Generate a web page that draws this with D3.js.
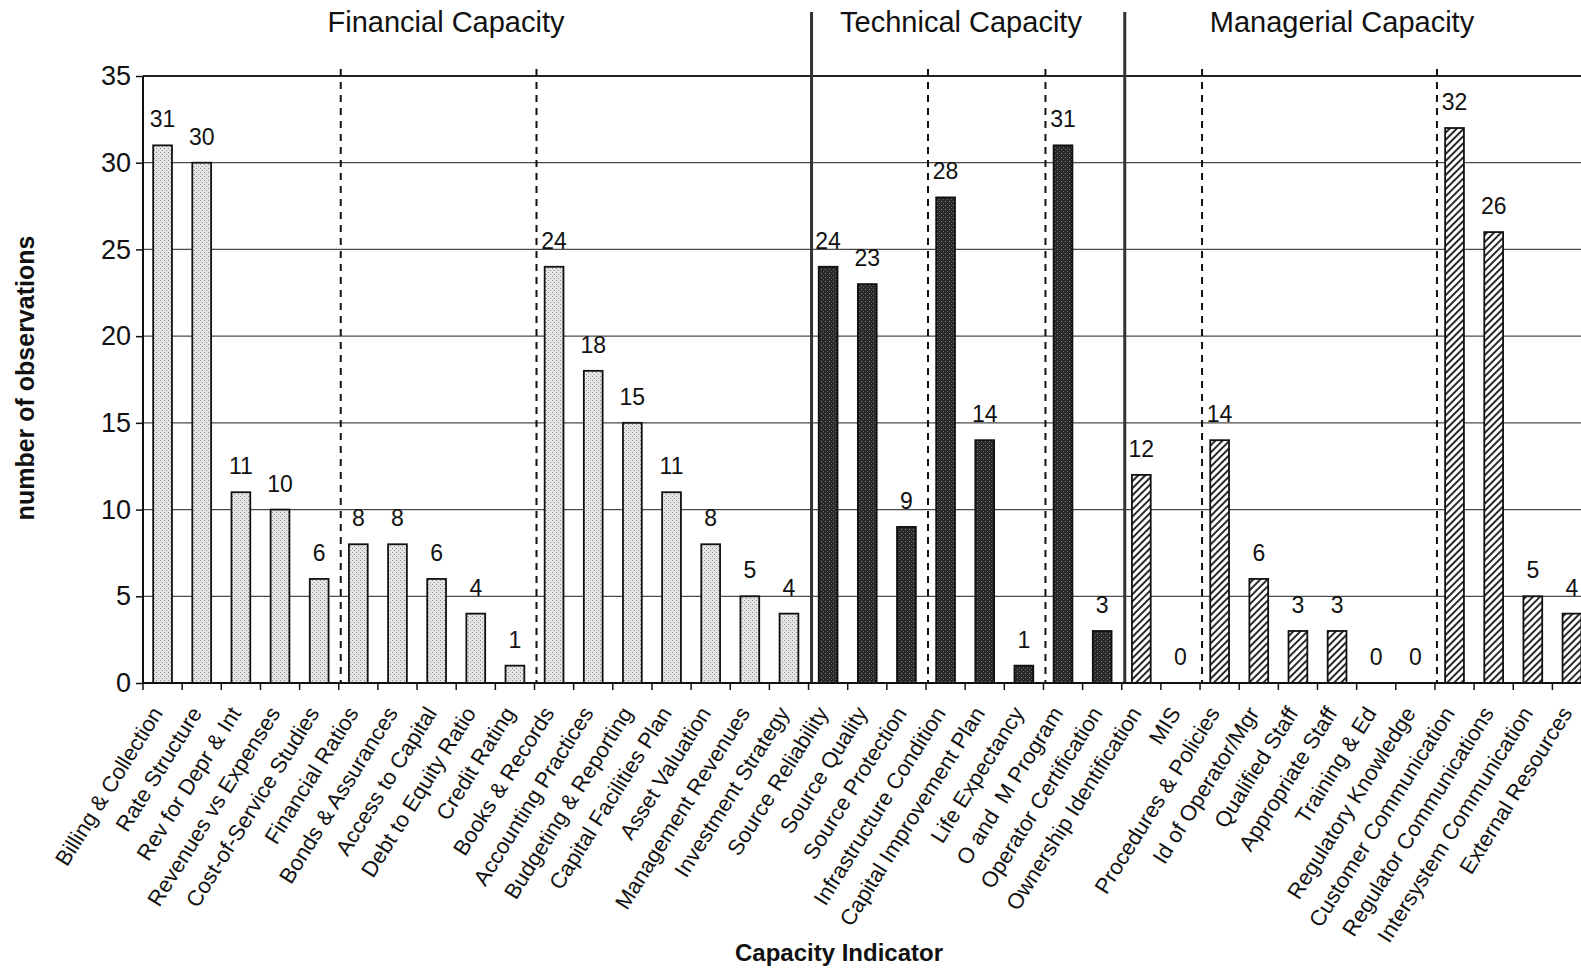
<!DOCTYPE html>
<html>
<meta charset="utf-8">
<script src="https://d3js.org/d3.v7.min.js"></script>

<style>
  body { margin: 0; background: #fff; }
  text { font-family: "Liberation Sans", Arial, sans-serif; fill: #111; }
  .bold { font-weight: bold; }
</style>

<body>
<div id="vis"></div>

<script>
  // categories, in chart order
  const categories = [
    "Billing & Collection", "Rate Structure", "Rev for Depr & Int", "Revenues vs Expenses",
    "Cost-of-Service Studies", "Financial Ratios", "Bonds & Assurances", "Access to Capital",
    "Debt to Equity Ratio", "Credit Rating", "Books & Records", "Accounting Practices",
    "Budgeting & Reporting", "Capital Facilities Plan", "Asset Valuation", "Management Revenues",
    "Investment Strategy",
    "Source Reliability", "Source Quality", "Source Protection", "Infrastructure Condition",
    "Capital Improvement Plan", "Life Expectancy", "O and  M Program", "Operator Certification",
    "Ownership Identification", "MIS", "Procedures & Policies", "Id of Operator/Mgr",
    "Qualified Staff", "Appropriate Staff", "Training & Ed", "Regulatory Knowledge",
    "Customer Communication", "Regulator Communications", "Intersystem Communication",
    "External Resources"
  ];
  const values = [
    31, 30, 11, 10, 6, 8, 8, 6, 4, 1, 24, 18, 15, 11, 8, 5, 4,
    24, 23, 9, 28, 14, 1, 31, 3,
    12, 0, 14, 6, 3, 3, 0, 0, 32, 26, 5, 4
  ];
  const groupNames = ["Financial Capacity", "Technical Capacity", "Managerial Capacity"];
  const groupSizes = [17, 8, 12];
  // first category of each dashed sub-section
  const dashedStarts = ["Financial Ratios", "Books & Records", "Infrastructure Condition",
    "O and  M Program", "Procedures & Policies", "Customer Communication"];
  const yTicks = [0, 5, 10, 15, 20, 25, 30, 35];

  const W = 1581, H = 969;
  const left = 143, step = 39.15, y0 = 683, yTop = 76;

  const groupOf = [];
  groupSizes.forEach((n, g) => { for (let i = 0; i < n; i++) groupOf.push(g); });

  const svg = d3.select("#vis").append("svg")
      .attr("width", W)
      .attr("height", H);

  // fills
  const defs = svg.append("defs");
  const light = defs.append("pattern").attr("id", "light")
      .attr("patternUnits", "userSpaceOnUse").attr("width", 4).attr("height", 4);
  light.append("rect").attr("width", 4).attr("height", 4).attr("fill", "#e4e4e4");
  light.append("rect").attr("x", 0).attr("y", 0).attr("width", 1).attr("height", 1).attr("fill", "#8c8c8c");
  light.append("rect").attr("x", 2).attr("y", 2).attr("width", 1).attr("height", 1).attr("fill", "#9c9c9c");

  const dark = defs.append("pattern").attr("id", "dark")
      .attr("patternUnits", "userSpaceOnUse").attr("width", 4).attr("height", 4);
  dark.append("rect").attr("width", 4).attr("height", 4).attr("fill", "#2a2a2a");
  dark.append("rect").attr("x", 1).attr("y", 1).attr("width", 1).attr("height", 1).attr("fill", "#808080");
  dark.append("rect").attr("x", 3).attr("y", 3).attr("width", 1).attr("height", 1).attr("fill", "#606060");

  const hatch = defs.append("pattern").attr("id", "hatch")
      .attr("patternUnits", "userSpaceOnUse").attr("width", 5).attr("height", 5)
      .attr("patternTransform", "rotate(45)");
  hatch.append("rect").attr("width", 5).attr("height", 5).attr("fill", "#fff");
  hatch.append("line").attr("x1", 1).attr("x2", 1).attr("y1", 0).attr("y2", 5)
      .attr("stroke", "#111").attr("stroke-width", 1.8);

  const fills = ["url(#light)", "url(#dark)", "url(#hatch)"];

  // scales
  const pad = 0.52;
  const x = d3.scaleBand()
      .domain(categories)
      .range([left, left + step * categories.length])
      .paddingInner(pad)
      .paddingOuter(pad / 2);
  const y = d3.scaleLinear().domain([0, 35]).range([y0, yTop]);

  const edge = name => x(name) - x.step() * pad / 2;
  const right = left + step * categories.length;

  // horizontal grid
  svg.append("g")
    .selectAll("line")
    .data(yTicks.filter(d => d > 0))
    .join("line")
      .attr("x1", left).attr("x2", right)
      .attr("y1", d => y(d)).attr("y2", d => y(d))
      .attr("stroke", d => d === 35 ? "#222" : "#4a4a4a")
      .attr("stroke-width", d => d === 35 ? 1.8 : 1.2);

  // dashed sub-section lines
  svg.append("g")
    .selectAll("line")
    .data(dashedStarts)
    .join("line")
      .attr("x1", d => edge(d) + 2).attr("x2", d => edge(d) + 2)
      .attr("y1", yTop - 7).attr("y2", y0)
      .attr("stroke", "#111")
      .attr("stroke-width", 2)
      .attr("stroke-dasharray", "7,6");

  // bars
  svg.append("g")
    .selectAll("rect")
    .data(categories)
    .join("rect")
      .attr("x", d => x(d))
      .attr("y", (d, i) => y(values[i]))
      .attr("width", x.bandwidth())
      .attr("height", (d, i) => y0 - y(values[i]))
      .attr("fill", (d, i) => fills[groupOf[i]])
      .attr("stroke", "#111")
      .attr("stroke-width", (d, i) => values[i] > 0 ? 1.8 : 0);

  // value labels
  svg.append("g")
    .selectAll("text")
    .data(categories)
    .join("text")
      .attr("x", d => x(d) + x.bandwidth() / 2)
      .attr("y", (d, i) => y(values[i]) - 18)
      .attr("text-anchor", "middle")
      .style("font-size", "23px")
      .text((d, i) => values[i]);

  // group dividers (solid) and headers
  const groupStarts = [];
  let acc = 0;
  groupSizes.forEach(n => { groupStarts.push(acc); acc += n; });

  svg.append("g")
    .selectAll("line")
    .data(groupStarts.slice(1))
    .join("line")
      .attr("x1", i => edge(categories[i]) + 3).attr("x2", i => edge(categories[i]) + 3)
      .attr("y1", 12).attr("y2", y0)
      .attr("stroke", "#333")
      .attr("stroke-width", 3);

  const headerCenters = [446, 961, 1342];
  svg.append("g")
    .selectAll("text")
    .data(groupNames)
    .join("text")
      .attr("x", (d, i) => headerCenters[i])
      .attr("y", 32)
      .attr("text-anchor", "middle")
      .style("font-size", "29px")
      .text(d => d);

  // y axis
  const yAxis = svg.append("g")
      .attr("transform", `translate(${left},0)`)
      .call(d3.axisLeft(y).tickValues(yTicks).tickSize(7).tickPadding(5));
  yAxis.select(".domain").attr("stroke", "#111").attr("stroke-width", 2)
      .attr("d", `M0,${y0}V${yTop}`);
  yAxis.selectAll(".tick line").attr("stroke", "#111").attr("stroke-width", 1.5);
  yAxis.selectAll(".tick text")
      .style("font-size", "27px")
      .style("font-family", "'Liberation Sans', Arial, sans-serif")
      .attr("fill", "#111");

  // x axis: boundary tick marks + rotated labels
  svg.append("line")
      .attr("x1", left).attr("x2", right)
      .attr("y1", y0).attr("y2", y0)
      .attr("stroke", "#111").attr("stroke-width", 2);

  svg.append("g")
    .selectAll("line")
    .data(categories)
    .join("line")
      .attr("x1", d => edge(d)).attr("x2", d => edge(d))
      .attr("y1", y0).attr("y2", y0 + 7)
      .attr("stroke", "#111").attr("stroke-width", 1.5);

  const xAxis = svg.append("g")
      .attr("transform", `translate(0,${y0})`)
      .call(d3.axisBottom(x).tickSize(0));
  xAxis.select(".domain").remove();
  xAxis.selectAll(".tick text")
      .attr("x", 0).attr("y", 0).attr("dy", 0)
      .attr("transform", "translate(1,30) rotate(-58)")
      .attr("text-anchor", "end")
      .attr("fill", "#111")
      .style("white-space", "pre")
      .style("font-size", "22px")
      .style("font-family", "'Liberation Sans', Arial, sans-serif");

  // axis titles
  svg.append("text")
      .attr("class", "bold")
      .attr("transform", "translate(34,378) rotate(-90)")
      .attr("text-anchor", "middle")
      .style("font-size", "25px")
      .text("number of observations");

  svg.append("text")
      .attr("class", "bold")
      .attr("x", 839)
      .attr("y", 961)
      .attr("text-anchor", "middle")
      .style("font-size", "24px")
      .text("Capacity Indicator");
</script>
</body>
</html>
